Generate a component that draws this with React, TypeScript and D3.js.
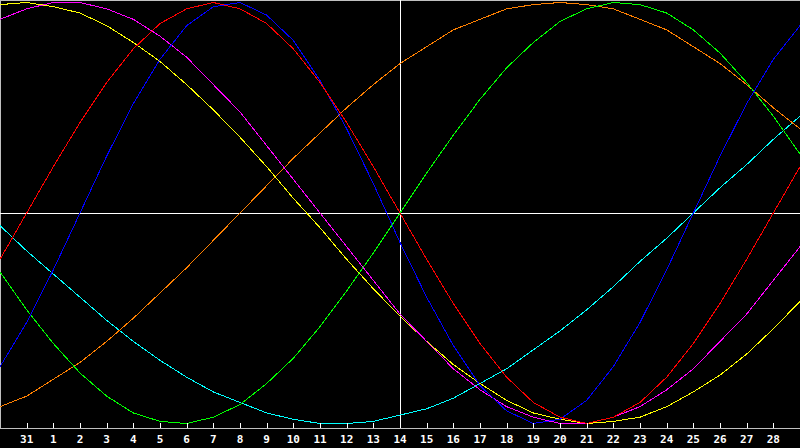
import * as d3 from 'd3'

const W = 800
const H = 448

// day labels under the ticks (index 1..29 of the 31 sampled days)
const DAY_LABELS = ['31', '1', '2', '3', '4', '5', '6', '7', '8', '9', '10', '11', '12', '13', '14', '15', '16', '17', '18', '19', '20', '21', '22', '23', '24', '25', '26', '27', '28']

// one value per day, index 0..30 (-1 .. 1)
const RED = [-0.22, 0, 0.22, 0.43, 0.62, 0.78, 0.9, 0.97, 1, 0.97, 0.9, 0.78, 0.62, 0.43, 0.22, 0, -0.22, -0.43, -0.62, -0.78, -0.9, -0.97, -1, -0.97, -0.9, -0.78, -0.62, -0.43, -0.22, 0, 0.22]
const BLUE = [-0.73, -0.52, -0.27, 0, 0.27, 0.52, 0.73, 0.89, 0.98, 1, 0.94, 0.82, 0.63, 0.4, 0.14, -0.14, -0.4, -0.63, -0.82, -0.94, -1, -0.98, -0.89, -0.73, -0.52, -0.27, 0, 0.27, 0.52, 0.73, 0.89]
const GREEN = [-0.28, -0.46, -0.62, -0.76, -0.87, -0.95, -0.99, -1, -0.97, -0.91, -0.81, -0.69, -0.54, -0.37, -0.19, 0, 0.19, 0.37, 0.54, 0.69, 0.81, 0.91, 0.97, 1, 0.99, 0.95, 0.87, 0.76, 0.62, 0.46, 0.28]
const MAGENTA = [0.92, 0.97, 1, 1, 0.97, 0.92, 0.84, 0.74, 0.61, 0.48, 0.32, 0.16, 0, -0.16, -0.32, -0.48, -0.61, -0.74, -0.84, -0.92, -0.97, -1, -1, -0.97, -0.92, -0.84, -0.74, -0.61, -0.48, -0.32, -0.16]
const YELLOW = [0.99, 1, 0.98, 0.95, 0.89, 0.81, 0.72, 0.61, 0.49, 0.36, 0.22, 0.07, -0.07, -0.22, -0.36, -0.49, -0.61, -0.72, -0.81, -0.89, -0.95, -0.98, -1, -0.99, -0.97, -0.92, -0.85, -0.77, -0.67, -0.55, -0.42]
const ORANGE = [-0.92, -0.87, -0.79, -0.71, -0.61, -0.5, -0.38, -0.26, -0.13, 0, 0.13, 0.26, 0.38, 0.5, 0.61, 0.71, 0.79, 0.87, 0.92, 0.97, 0.99, 1, 0.99, 0.97, 0.92, 0.87, 0.79, 0.71, 0.61, 0.5, 0.4]
const CYAN = [-0.06, -0.18, -0.29, -0.4, -0.51, -0.61, -0.7, -0.78, -0.85, -0.9, -0.95, -0.98, -1, -1, -0.99, -0.96, -0.93, -0.88, -0.81, -0.74, -0.65, -0.56, -0.46, -0.35, -0.23, -0.12, 0, 0.12, 0.23, 0.35, 0.46]

const SERIES: [number[], string][] = [
  [CYAN, '#00ffff'],
  [ORANGE, '#ff8000'],
  [GREEN, '#00ff00'],
  [YELLOW, '#ffff00'],
  [MAGENTA, '#ff00ff'],
  [BLUE, '#0000ff'],
  [RED, '#ff0000'],
]

const AXIS_Y = 428
const GRAY = '#c0c0c0'

export default function App() {
  const x = d3.scaleLinear().domain([0, 30]).range([0, W])
  const y = d3.scaleLinear().domain([-1, 1]).range([423.5, 2.5])
  const line = d3.line<number>().x((_, i) => x(i)).y((v) => y(v))
  const px = (v: number) => Math.round(v) + 0.5

  return (
    <svg
      width={W}
      height={H}
      style={{ position: 'fixed', left: 0, top: 0, background: '#000', display: 'block' }}
    >
      <rect width={W} height={H} fill="#000" />
      {/* frame: left, top, bottom axis */}
      <line x1={0.5} x2={0.5} y1={0} y2={AXIS_Y} stroke={GRAY} shapeRendering="crispEdges" />
      <line x1={0} x2={W} y1={0.5} y2={0.5} stroke={GRAY} shapeRendering="crispEdges" />
      <line x1={0} x2={W} y1={AXIS_Y + 0.5} y2={AXIS_Y + 0.5} stroke={GRAY} shapeRendering="crispEdges" />

      {/* cross hair at today / zero */}
      <line x1={0} x2={W} y1={px(y(0))} y2={px(y(0))} stroke="#fff" shapeRendering="crispEdges" />
      <line x1={px(x(15))} x2={px(x(15))} y1={0} y2={AXIS_Y} stroke="#fff" shapeRendering="crispEdges" />

      {SERIES.map(([vals, color]) => (
        <path key={color} d={line(vals) ?? ''} fill="none" stroke={color} strokeWidth={1} shapeRendering="crispEdges" />
      ))}

      {DAY_LABELS.map((lab, k) => {
        const tx = x(k + 1)
        return (
          <g key={k}>
            <line x1={px(tx)} x2={px(tx)} y1={AXIS_Y - 5} y2={AXIS_Y} stroke="#fff" shapeRendering="crispEdges" />
            <text
              x={tx}
              y={443}
              fill="#fff"
              textAnchor="middle"
              fontFamily="'DejaVu Sans Mono', monospace"
              fontWeight="bold"
              fontSize={11}
            >
              {lab}
            </text>
          </g>
        )
      })}
    </svg>
  )
}
